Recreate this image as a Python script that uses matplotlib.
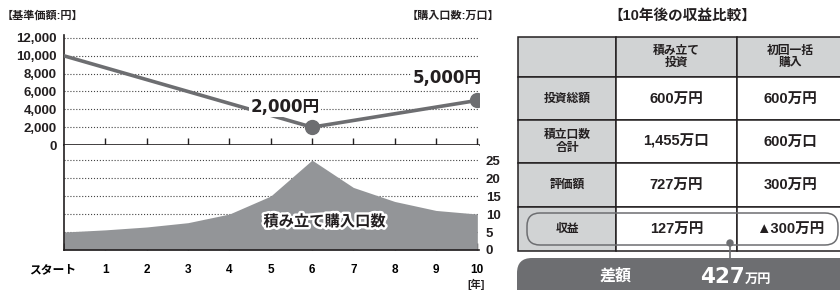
import matplotlib
matplotlib.use('Agg')
import matplotlib.pyplot as plt
import matplotlib.patheffects as pe
import matplotlib.transforms as mtransforms
from matplotlib.patches import Rectangle, FancyBboxPatch, Circle

plt.rcParams['font.family'] = ['Liberation Sans', 'Noto Sans CJK JP', 'DejaVu Sans']
WIDE = ['DejaVu Sans', 'Noto Sans CJK JP']

# chart data
years = [0, 1, 2, 3, 4, 5, 6, 7, 8, 9, 10]
year_labels = ['スタート', '1', '2', '3', '4', '5', '6', '7', '8', '9', '10']
price_years = [0, 6, 10]
price = [10000, 2000, 5000]
units = [5, 5.6, 6.4, 7.6, 10, 15, 25, 17.4, 13.5, 11, 10]
price_ticks = [0, 2000, 4000, 6000, 8000, 10000, 12000]
unit_ticks = [0, 5, 10, 15, 20, 25]

# table data
col_heads = ['積み立て\n投資', '初回一括\n購入']
row_heads = ['投資総額', '積立口数\n合計', '評価額', '収益']
tsumitate = ['600万円', '1,455万口', '727万円', '127万円']
ikkatsu = ['600万円', '600万口', '300万円', '▲300万円']
diff_label = '差額'
diff_value = '427'

W, H = 840, 290
DARK = '#231f20'
GRAY = '#6d6e71'
FILL = '#939598'
LIGHT = '#d1d3d4'

fig = plt.figure(figsize=(W / 100, H / 100), dpi=100)

def px_axes(x0, y0, x1, y1):
    # pixel box (top-left origin) -> figure axes
    return fig.add_axes([x0 / W, 1 - y1 / H, (x1 - x0) / W, (y1 - y0) / H])

# upper chart: price
ax1 = px_axes(64, 35, 479, 145)
ax1.plot(price_years, price, color=GRAY, lw=2.6, zorder=3)
ax1.plot(price_years[1:], price[1:], 'o', color=GRAY, ms=10, zorder=4)
ax1.set_xlim(0, 10.04)
ax1.set_ylim(0, 12336)
ax1.set_yticks(price_ticks)
ax1.set_yticklabels([f'{v:,}' for v in price_ticks], fontweight='bold')
ax1.set_xticks(years[1:])
ax1.set_xticklabels([])
ax1.tick_params(axis='y', length=0, pad=5, labelsize=9.5, colors=DARK)
ax1.tick_params(axis='x', direction='in', length=5, width=1, color=DARK)
ax1.grid(axis='y', ls=':', lw=0.8, color='#444444')
for s in ['top', 'right']:
    ax1.spines[s].set_visible(False)
for s in ['left', 'bottom']:
    ax1.spines[s].set_color(DARK)
    ax1.spines[s].set_linewidth(1.2)
ax1.text(5.35, 4250, '2,000円', ha='center', va='center', fontsize=12,
         fontweight='bold', family=WIDE, color=DARK, zorder=5,
         bbox=dict(facecolor='white', edgecolor='none', pad=1))
ax1.text(9.27, 7550, '5,000円', ha='center', va='center', fontsize=12,
         fontweight='bold', family=WIDE, color=DARK, zorder=5,
         bbox=dict(facecolor='white', edgecolor='none', pad=1))

# lower chart: units bought
ax2 = px_axes(64, 145, 479, 250)
ax2.fill_between(years, units, color=FILL, lw=0, zorder=2)
ax2.set_xlim(0, 10.04)
ax2.set_ylim(0, 29.2)
ax2.yaxis.tick_right()
ax2.set_yticks(unit_ticks)
ax2.set_yticklabels([str(v) for v in unit_ticks], fontweight='bold')
ax2.tick_params(axis='y', length=0, pad=5, labelsize=9.5, colors=DARK)
ax2.set_xticks(years)
ax2.set_xticklabels(year_labels, fontweight='bold')
ax2.tick_params(axis='x', direction='in', length=5, width=1, color=DARK,
                pad=10, labelsize=8.5)
first = ax2.get_xticklabels()[0]
first.set_transform(first.get_transform() +
                    mtransforms.ScaledTranslation(-0.11, 0, fig.dpi_scale_trans))
ax2.grid(axis='y', ls=':', lw=0.8, color='#444444', zorder=1)
ax2.set_axisbelow(True)
for s in ['top', 'right']:
    ax2.spines[s].set_visible(False)
for s in ['left', 'bottom']:
    ax2.spines[s].set_color(DARK)
    ax2.spines[s].set_linewidth(1.2)
ax2.text(6.3, 7.8, '積み立て購入口数', ha='center', va='center', fontsize=11,
         fontweight='bold', color=DARK, zorder=5,
         path_effects=[pe.withStroke(linewidth=3.5, foreground='white')])

# overlay in pixel coordinates for labels and table
ov = fig.add_axes([0, 0, 1, 1], zorder=-1)
ov.set_xlim(0, W)
ov.set_ylim(H, 0)
ov.axis('off')

ov.text(2, 16, '【基準価額:円】', ha='left', va='center', fontsize=8,
        fontweight='bold', color=DARK)
ov.text(499, 16, '【購入口数:万口】', ha='right', va='center', fontsize=8,
        fontweight='bold', color=DARK)
ov.text(476, 284, '[年]', ha='center', va='center', fontsize=7.5,
        fontweight='bold', color=DARK)
ov.text(682, 16, '【10年後の収益比較】', ha='center', va='center', fontsize=10.5,
        fontweight='bold', color=DARK)

# table grid
col_x = [518, 616, 737, 844]
row_y = [37, 77, 120, 163, 207, 251]
for r in range(len(row_y) - 1):
    for c in range(len(col_x) - 1):
        shade = LIGHT if (r == 0 or c == 0) else 'white'
        ov.add_patch(Rectangle((col_x[c], row_y[r]), col_x[c + 1] - col_x[c],
                               row_y[r + 1] - row_y[r], facecolor=shade,
                               edgecolor=DARK, lw=1.1))

cx = [(col_x[i] + col_x[i + 1]) / 2 for i in range(3)]
cy = [(row_y[i] + row_y[i + 1]) / 2 for i in range(5)]
for i, h in enumerate(col_heads):
    ov.text(cx[i + 1], cy[0], h, ha='center', va='center', fontsize=8.5,
            fontweight='bold', color=DARK, linespacing=1.1)
for i, h in enumerate(row_heads):
    ov.text(cx[0], cy[i + 1], h, ha='center', va='center', fontsize=8.5,
            fontweight='bold', color=DARK, linespacing=1.1)
    ov.text(cx[1], cy[i + 1], tsumitate[i], ha='center', va='center',
            fontsize=10.5, fontweight='bold', color=DARK)
    ov.text(cx[2], cy[i + 1], ikkatsu[i], ha='center', va='center',
            fontsize=10.5, fontweight='bold', color=DARK)

# highlight of profit row
ov.add_patch(FancyBboxPatch((527, 213), 311, 32,
                            boxstyle='round,pad=0,rounding_size=13',
                            facecolor='none', edgecolor=GRAY, lw=1.1, zorder=5))

# difference banner
ov.add_patch(FancyBboxPatch((517, 258), 340, 50,
                            boxstyle='round,pad=0,rounding_size=15',
                            facecolor=GRAY, edgecolor='none', zorder=4))
ov.plot([730, 730], [243, 258], color=GRAY, lw=1.2, zorder=6)
ov.add_patch(Circle((730, 243), 3, color=GRAY, zorder=6))
ov.text(616, 276, diff_label, ha='center', va='center', fontsize=11.5,
        fontweight='bold', color='white', zorder=7)
ov.text(745, 283, diff_value, ha='right', va='baseline', fontsize=15.5,
        fontweight='bold', family=WIDE, color='white', zorder=7)
ov.text(745, 283, '万円', ha='left', va='baseline', fontsize=9.5,
        fontweight='bold', color='white', zorder=7)

fig.savefig('out.png', dpi=100)
